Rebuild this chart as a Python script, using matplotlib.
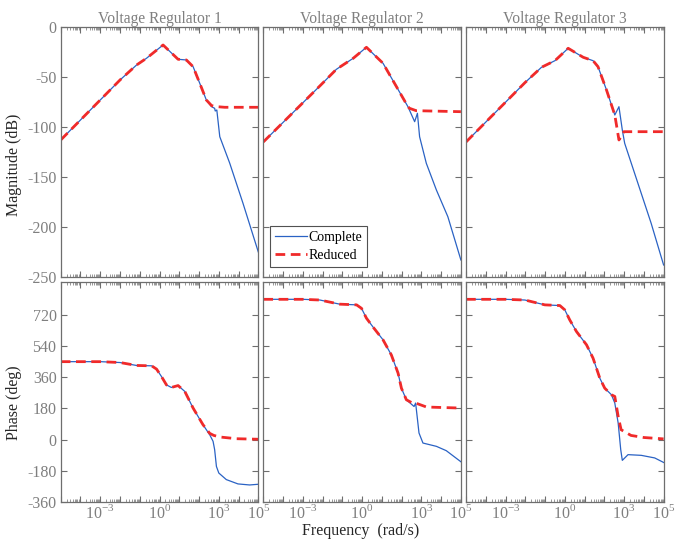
import numpy as np
import matplotlib.pyplot as plt
from matplotlib.ticker import LogLocator, NullFormatter, FixedLocator

plt.rcParams['font.family'] = ['Liberation Serif', 'DejaVu Serif']
plt.rcParams['mathtext.fontset'] = 'custom'
plt.rcParams['mathtext.rm'] = 'Liberation Serif'
plt.rcParams['axes.unicode_minus'] = False

titles = ['Voltage Regulator 1', 'Voltage Regulator 2', 'Voltage Regulator 3']

# log10(frequency) and magnitude (dB), complete model
mag_full_lf = [
    [-5, -2.0, -1.16, -0.66, 0.18, 0.94, 1.36, 1.7, 2.03, 2.37, 2.63, 2.79, 2.82, 2.9,
     3.05, 3.55, 4.22, 5],
    [-5, -2.14, -1.3, -0.45, 0.22, 1.06, 1.74, 2.32, 2.66, 2.8, 2.91, 3.25, 3.76, 4.34, 5],
    [-5, -2.02, -1.18, -0.5, 0.17, 0.93, 1.43, 1.68, 2.11, 2.53, 2.74, 2.91, 3.03, 3.7,
     4.37, 5],
]
mag_full = [
    [-113, -53, -38, -31.3, -18, -32.3, -33, -39.7, -56, -73, -79.7, -81.3, -84, -83,
     -109.7, -136, -176, -225],
    [-115, -59, -42.3, -31.3, -20.3, -36.3, -59.7, -79.7, -94.7, -86.3, -109.7, -136.3,
     -163, -189.7, -233],
    [-115, -55.7, -40.3, -33.7, -21.3, -30.3, -33.7, -39.7, -63, -88, -79.7, -103, -116.3,
     -156.3, -196.3, -238],
]
# reduced model
mag_red_lf = [
    [-5, -2.0, -1.16, -0.66, 0.18, 0.94, 1.36, 1.7, 2.03, 2.37, 2.63, 2.79, 3.3, 5],
    [-5, -2.14, -1.3, -0.45, 0.22, 1.06, 1.74, 2.32, 2.4, 2.74, 5],
    [-5, -2.02, -1.18, -0.5, 0.17, 0.93, 1.43, 1.68, 2.11, 2.53, 2.74, 2.99, 5],
]
mag_red = [
    [-113, -53, -38, -31.3, -18, -32.3, -33, -39.7, -56, -73, -78.5, -79.5, -80.3, -80.3],
    [-115, -59, -42.3, -31.3, -20.3, -36.3, -59.7, -79.7, -81.3, -83.7, -84.7],
    [-115, -55.7, -40.3, -33.7, -21.3, -30.3, -33.7, -39.7, -63, -88, -113, -104.7, -104.7],
]

# phase (deg), complete model
ph_full_lf = [
    [-5, -3.0, -2.0, -1.16, -0.4, -0.15, 0.1, 0.35, 0.6, 0.94, 1.28, 1.7, 2.2, 2.54,
     2.71, 2.79, 2.88, 3.0, 3.38, 3.97, 4.56, 5],
    [-5, -3.0, -2.14, -1.13, -0.28, -0.03, 0.22, 0.56, 1.06, 1.48, 1.82, 1.99, 2.24, 2.63,
     2.71, 2.88, 3.08, 3.76, 4.26, 5],
    [-5, -3.0, -2.02, -1.01, -0.25, 0.0, 0.25, 0.59, 1.1, 1.43, 1.77, 2.02, 2.36, 2.53,
     2.7, 2.83, 2.91, 3.2, 3.87, 4.55, 5],
]
ph_full = [
    [450, 450, 445, 428, 426, 407, 364, 316, 301, 312, 278, 182, 86, 28,
     -10, -58, -155, -193, -231, -256, -262, -258],
    [810, 810, 806, 782, 778, 758, 701, 649, 576, 489, 384, 297, 230, 191,
     211, 38, -20, -39, -64, -128],
    [810, 810, 806, 778, 774, 749, 691, 624, 547, 470, 355, 297, 259, 211,
     96, -58, -120, -87, -91, -106, -132],
]
ph_red_lf = [
    [-5, -3.0, -2.0, -1.16, -0.4, -0.15, 0.1, 0.35, 0.6, 0.94, 1.28, 1.7, 2.2, 2.54,
     2.75, 3.05, 3.9, 5],
    [-5, -3.0, -2.14, -1.13, -0.28, -0.03, 0.22, 0.56, 1.06, 1.48, 1.82, 1.99, 2.24, 2.5,
     2.71, 3.26, 5],
    [-5, -3.0, -2.02, -1.01, -0.25, 0.0, 0.25, 0.59, 1.1, 1.43, 1.77, 2.02, 2.36, 2.53,
     2.7, 2.85, 3.35, 4.0, 5],
]
ph_red = [
    [450, 450, 445, 428, 426, 407, 364, 316, 301, 312, 278, 182, 86, 36, 24, 15, 5, 2],
    [810, 810, 806, 782, 778, 758, 701, 649, 576, 489, 384, 297, 230, 214, 211, 188, 182],
    [810, 810, 806, 778, 774, 749, 691, 624, 547, 470, 355, 297, 259, 249,
     134, 57, 24, 12, 4],
]

blue = '#2a62c4'
red = '#f02a2a'
gray_txt = '#7f7f7f'
spine = '#6e6e6e'

fig = plt.figure(figsize=(6.94, 5.43), dpi=100)

lefts = [0.0875, 0.3794, 0.6715]
w = 0.2847
axes_top = [fig.add_axes([l, 0.4899, w, 0.4604]) for l in lefts]
axes_bot = [fig.add_axes([l, 0.075, w, 0.4063]) for l in lefts]


def style(ax):
    ax.set_xscale('log')
    ax.set_xlim(1e-5, 1e5)
    ax.xaxis.set_major_locator(FixedLocator(10.0 ** np.arange(-5, 6)))
    ax.xaxis.set_minor_locator(LogLocator(base=10, subs=np.arange(2, 10), numticks=30))
    ax.xaxis.set_minor_formatter(NullFormatter())
    ax.tick_params(which='both', direction='in', top=True, right=True,
                   colors=spine, labelcolor=gray_txt, labelsize=11.5)
    ax.tick_params(which='major', length=4, width=0.8, pad=3)
    ax.tick_params(which='minor', length=2, width=0.5)
    ax.tick_params(axis='x', which='major', pad=1)
    for s in ax.spines.values():
        s.set_color(spine)
        s.set_linewidth(0.9)


for i in range(3):
    ax = axes_top[i]
    ax.plot(10.0 ** np.array(mag_full_lf[i]), mag_full[i], color=blue, lw=0.9, label='Complete')
    ax.plot(10.0 ** np.array(mag_red_lf[i]), mag_red[i], color=red, lw=2.0,
            ls=(0, (3.5, 2)), label='Reduced')
    style(ax)
    ax.set_ylim(-250, 0)
    ax.set_yticks(np.arange(-250, 1, 50))
    ax.set_xticklabels([])
    ax.set_title(titles[i], color=gray_txt, fontsize=11.2, pad=3)
    if i > 0:
        ax.set_yticklabels([])

    ax = axes_bot[i]
    ax.plot(10.0 ** np.array(ph_full_lf[i]), ph_full[i], color=blue, lw=0.9)
    ax.plot(10.0 ** np.array(ph_red_lf[i]), ph_red[i], color=red, lw=2.0, ls=(0, (3.5, 2)))
    style(ax)
    ax.set_ylim(-362, 912)
    ax.set_yticks(np.arange(-360, 721, 180))
    labels = ['' for _ in range(11)]
    labels[2] = r'$10^{-3}$'
    labels[5] = r'$10^{0}$'
    labels[8] = r'$10^{3}$'
    labels[10] = r'$10^{5}$'
    ax.set_xticklabels(labels)
    if i > 0:
        ax.set_yticklabels([])

axes_top[0].set_ylabel('Magnitude (dB)', fontsize=11.5, color='#262626')
axes_top[0].yaxis.set_label_coords(-0.198, 0.45)
axes_bot[0].set_ylabel('Phase (deg)', fontsize=11.5, color='#262626')
axes_bot[0].yaxis.set_label_coords(-0.198, 0.45)
fig.text(0.52, 1 - 531 / 543, 'Frequency  (rad/s)', fontsize=11.5, color='#262626',
         ha='center', va='center')

leg = axes_top[1].legend(loc='lower left', bbox_to_anchor=(0.034, 0.04), fontsize=10,
                         frameon=True, fancybox=False, handlelength=2.3, handletextpad=0.1,
                         borderpad=0.35, labelspacing=0.35, borderaxespad=0)
leg.get_frame().set_edgecolor('#262626')
leg.get_frame().set_linewidth(0.8)

fig.savefig('out.png', dpi=100)
